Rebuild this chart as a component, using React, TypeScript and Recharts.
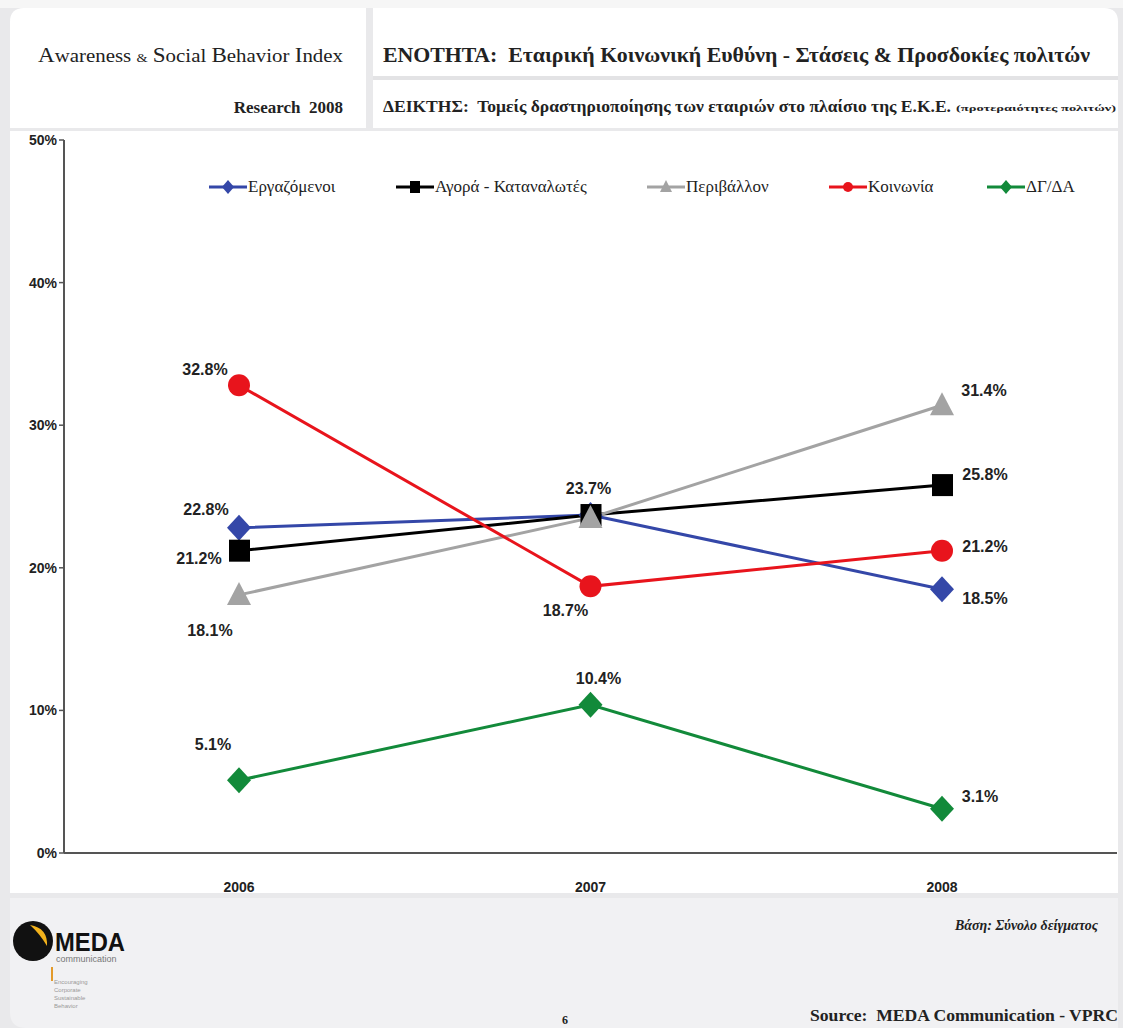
import React from "react";
import {
  LineChart,
  Line,
  XAxis,
  YAxis,
  LabelList,
} from "recharts";

// ---- data ----
const years = ["2006", "2007", "2008"];
const employees = [22.8, 23.7, 18.5];
const market = [21.2, 23.7, 25.8];
const environment = [18.1, 23.5, 31.4];
const society = [32.8, 18.7, 21.2];
const management = [5.1, 10.4, 3.1];
const yTicks = [0, 10, 20, 30, 40, 50];

const rows = years.map((year, i) => ({
  year,
  employees: employees[i],
  market: market[i],
  environment: environment[i],
  society: society[i],
  management: management[i],
}));

type Shape = "diamond" | "square" | "triangle" | "circle";

const series: { key: string; name: string; color: string; shape: Shape }[] = [
  { key: "employees", name: "Εργαζόμενοι", color: "#3447a8", shape: "diamond" },
  { key: "market", name: "Αγορά - Καταναλωτές", color: "#000000", shape: "square" },
  { key: "environment", name: "Περιβάλλον", color: "#a3a3a3", shape: "triangle" },
  { key: "society", name: "Κοινωνία", color: "#e8141c", shape: "circle" },
  { key: "management", name: "ΔΓ/ΔΑ", color: "#128a3a", shape: "diamond" },
];

// label placement relative to each point (null = no label)
const labelOffsets: Record<string, ([number, number] | null)[]> = {
  employees: [[-33, -17], null, [43, 11]],
  market: [[-40, 9], [-2, -25], [43, -9]],
  environment: [[-29, 37], null, [42, -13]],
  society: [[-34, -14], [-25, 25], [43, -3]],
  management: [[-26, -34], [8, -25], [38, -11]],
};

const legendX = [209, 396, 647, 829, 987];

const sans = "'Liberation Sans', Arial, sans-serif";
const serif = "'Liberation Serif', 'Times New Roman', serif";

function Marker({ cx, cy, color, shape }: { cx: number; cy: number; color: string; shape: Shape }) {
  if (cx == null || cy == null) return null;
  if (shape === "circle") return <circle cx={cx} cy={cy} r={11} fill={color} />;
  if (shape === "square")
    return <rect x={cx - 10} y={cy - 11} width={21} height={22} fill={color} />;
  if (shape === "triangle")
    return (
      <polygon
        points={`${cx},${cy - 13} ${cx + 12},${cy + 10} ${cx - 12},${cy + 10}`}
        fill={color}
      />
    );
  return (
    <polygon
      points={`${cx},${cy - 13} ${cx + 12},${cy} ${cx},${cy + 13} ${cx - 12},${cy}`}
      fill={color}
    />
  );
}

function LegendIcon({ color, shape }: { color: string; shape: Shape }) {
  const small =
    shape === "circle" ? (
      <circle cx={19} cy={8} r={5} fill={color} />
    ) : shape === "square" ? (
      <rect x={14} y={2} width={10} height={12} fill={color} />
    ) : shape === "triangle" ? (
      <polygon points="19,1 25,13 13,13" fill={color} />
    ) : (
      <polygon points="19,1 25,8 19,15 13,8" fill={color} />
    );
  return (
    <svg width={38} height={16} style={{ display: "block" }}>
      <line x1={0} y1={8} x2={38} y2={8} stroke={color} strokeWidth={3} />
      {small}
    </svg>
  );
}

function ChartLegend() {
  return (
    <div style={{ position: "absolute", left: 0, top: 177, width: 1123, height: 22 }}>
      {series.map((s, i) => (
        <div
          key={s.key}
          style={{
            position: "absolute",
            left: legendX[i],
            top: 0,
            display: "flex",
            alignItems: "center",
            fontFamily: serif,
            fontSize: 17,
            color: "#222",
            whiteSpace: "nowrap",
          }}
        >
          <LegendIcon color={s.color} shape={s.shape} />
          <span style={{ marginLeft: 1 }}>{s.name}</span>
        </div>
      ))}
    </div>
  );
}

function makeLabel(key: string) {
  return (props: any) => {
    const { x, y, value, index } = props;
    const off = labelOffsets[key][index];
    if (!off) return null;
    return (
      <text
        x={x + off[0]}
        y={y + off[1]}
        textAnchor="middle"
        dominantBaseline="middle"
        fontFamily={sans}
        fontWeight="bold"
        fontSize={16}
        fill="#222"
      >
        {value.toFixed(1)}%
      </text>
    );
  };
}

function YearTick(props: any) {
  const { x, y, payload } = props;
  return (
    <text
      x={x}
      y={y + 27}
      textAnchor="middle"
      dominantBaseline="middle"
      fontFamily={sans}
      fontWeight="bold"
      fontSize={14}
      fill="#222"
    >
      {payload.value}
    </text>
  );
}

function Frame() {
  return (
    <svg width={1123} height={1028} style={{ position: "absolute", left: 0, top: 0 }}>
      <rect x={0} y={0} width={1123} height={1028} fill="#e9e9eb" />
      <rect x={0} y={0} width={1123} height={8} fill="#f6f6f6" />
      {/* header panels */}
      <path d="M10,128 V22 Q10,8 24,8 H366 V128 Z" fill="#ffffff" />
      <path d="M373,128 V8 H1104 Q1118,8 1118,22 V128 Z" fill="#ffffff" />
      <rect x={373} y={76} width={745} height={4} fill="#e3e3e5" />
      {/* chart panel */}
      <rect x={10} y={131} width={1108} height={762} fill="#ffffff" />
      {/* footer */}
      <path d="M10,898 H1118 V1028 H26 Q10,1028 10,1012 Z" fill="#f1f1f3" />

      <text x={38} y={62} fontFamily={serif} fontSize={19} fill="#222" textLength={305} lengthAdjust="spacingAndGlyphs">
        <tspan fontSize={21}>A</tspan>wareness <tspan fontSize={13}>&amp;</tspan> <tspan fontSize={21}>S</tspan>ocial <tspan fontSize={21}>B</tspan>ehavior <tspan fontSize={21}>I</tspan>ndex
      </text>
      <text x={343} y={113} textAnchor="end" fontFamily={serif} fontWeight="bold" fontSize={17} fill="#222">
        Research&#160; 2008
      </text>
      <text x={383} y={62} fontFamily={serif} fontWeight="bold" fontSize={20} fill="#222" textLength={707} lengthAdjust="spacingAndGlyphs">
        ΕΝΟΤΗΤΑ:&#160; Εταιρική Κοινωνική Ευθύνη - Στάσεις &amp; Προσδοκίες πολιτών
      </text>
      <text x={383} y={112} fontFamily={serif} fontWeight="bold" fontSize={16} fill="#222" textLength={568} lengthAdjust="spacingAndGlyphs">
        ΔΕΙΚΤΗΣ:&#160; Τομείς δραστηριοποίησης των εταιριών στο πλαίσιο της Ε.Κ.Ε.
      </text>
      <text x={956} y={111} fontFamily={serif} fontWeight="bold" fontSize={8} fill="#222" textLength={160} lengthAdjust="spacingAndGlyphs">
        (προτεραιότητες πολιτών)
      </text>

      {/* logo */}
      <circle cx={33} cy={941} r={20} fill="#111" />
      <path d="M30,925 Q48,928 47,946 Q40,934 30,925 Z" fill="#f2b21c" />
      <text x={55} y={951} fontFamily={sans} fontWeight="900" fontSize={25} fill="#111" textLength={70} lengthAdjust="spacingAndGlyphs">
        MEDA
      </text>
      <text x={56} y={962} fontFamily={sans} fontSize={9} fill="#777">
        communication
      </text>
      <rect x={51} y={967} width={2} height={14} fill="#e39a2a" />
      <text fontFamily={sans} fontSize={6} fill="#999">
        <tspan x={54} y={984}>Encouraging</tspan>
        <tspan x={54} y={992}>Corporate</tspan>
        <tspan x={54} y={1000}>Sustainable</tspan>
        <tspan x={54} y={1008}>Behavior</tspan>
      </text>

      <text x={1098} y={930} textAnchor="end" fontFamily={serif} fontWeight="bold" fontStyle="italic" fontSize={14} fill="#222">
        Βάση: Σύνολο δείγματος
      </text>
      <text x={565} y={1024} textAnchor="middle" fontFamily={serif} fontWeight="bold" fontSize={12} fill="#222">
        6
      </text>
      <text x={1118} y={1021} textAnchor="end" fontFamily={serif} fontWeight="bold" fontSize={17} fill="#222" textLength={308} lengthAdjust="spacingAndGlyphs">
        Source:&#160; MEDA Communication - VPRC
      </text>
    </svg>
  );
}

export default function App() {
  return (
    <div style={{ position: "absolute", left: 0, top: 0, width: 1123, height: 1028, overflow: "hidden" }}>
      <Frame />
      <div style={{ position: "absolute", left: 0, top: 0 }}>
        <LineChart
          width={1123}
          height={900}
          data={rows}
          margin={{ top: 140, right: 6, bottom: 0, left: 4 }}
        >
          <XAxis
            dataKey="year"
            height={47}
            padding={{ left: 175, right: 175 }}
            axisLine={{ stroke: "#555", strokeWidth: 2 }}
            tickLine={false}
            tick={<YearTick />}
          />
          <YAxis
            width={60}
            domain={[0, 50]}
            ticks={yTicks}
            tickFormatter={(v: number) => `${v}%`}
            axisLine={{ stroke: "#555", strokeWidth: 2 }}
            tickLine={{ stroke: "#555", strokeWidth: 1.5 }}
            tickSize={5}
            tick={{ fontFamily: sans, fontWeight: "bold", fontSize: 14, fill: "#222" }}
          />
          {series.map((s) => (
            <Line
              key={s.key}
              dataKey={s.key}
              name={s.name}
              type="linear"
              stroke={s.color}
              strokeWidth={3}
              isAnimationActive={false}
              dot={(p: any) => (
                <Marker key={`${s.key}-${p.index}`} cx={p.cx} cy={p.cy} color={s.color} shape={s.shape} />
              )}
              activeDot={false}
            >
              <LabelList dataKey={s.key} content={makeLabel(s.key)} />
            </Line>
          ))}
        </LineChart>
      </div>
      <ChartLegend />
    </div>
  );
}
